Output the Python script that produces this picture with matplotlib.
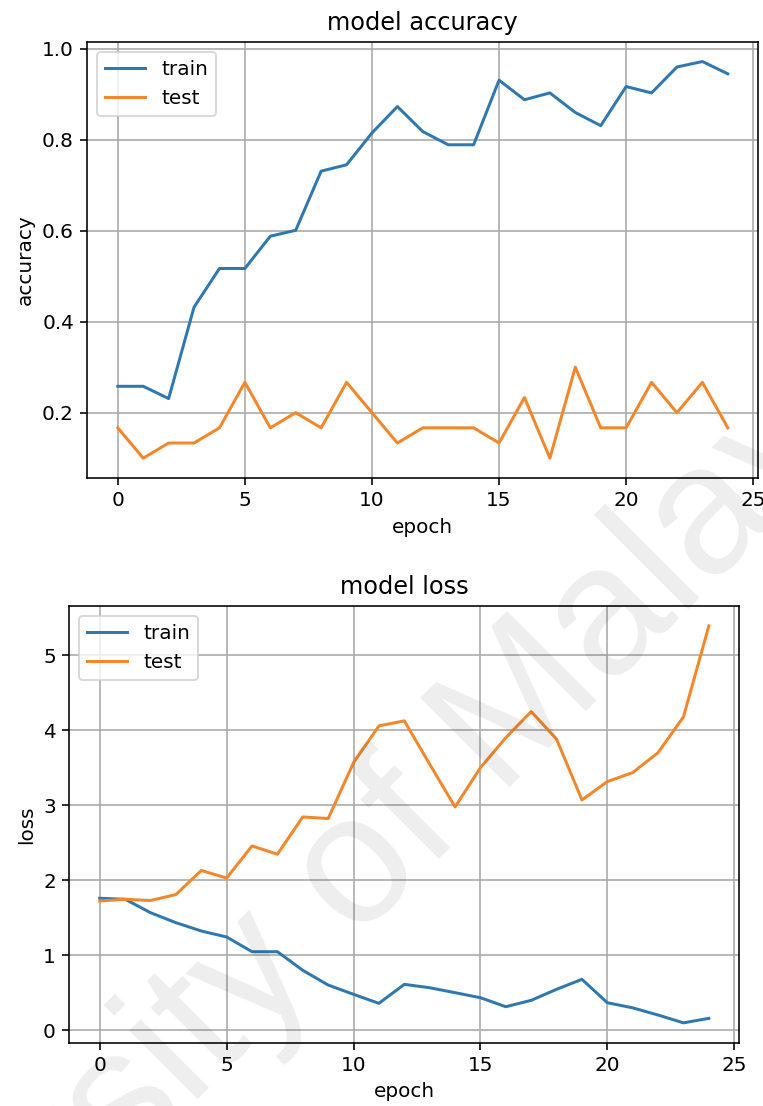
import matplotlib
matplotlib.use("Agg")
import matplotlib.pyplot as plt

epochs = list(range(25))

acc_train = [0.258, 0.258, 0.231, 0.432, 0.517, 0.517, 0.588, 0.601, 0.731, 0.745,
             0.815, 0.873, 0.818, 0.789, 0.789, 0.931, 0.888, 0.903, 0.860, 0.831,
             0.917, 0.903, 0.960, 0.972, 0.945]
acc_test = [0.1667, 0.1, 0.1333, 0.1333, 0.1667, 0.2667, 0.1667, 0.2, 0.1667, 0.2667,
            0.2, 0.1333, 0.1667, 0.1667, 0.1667, 0.1333, 0.2333, 0.1, 0.3, 0.1667,
            0.1667, 0.2667, 0.2, 0.2667, 0.1667]

loss_train = [1.76, 1.747, 1.568, 1.435, 1.324, 1.244, 1.048, 1.048, 0.80, 0.604,
              0.48, 0.36, 0.613, 0.568, 0.502, 0.435, 0.315, 0.40, 0.547, 0.68,
              0.368, 0.30, 0.204, 0.10, 0.16]
loss_test = [1.724, 1.747, 1.73, 1.81, 2.13, 2.03, 2.457, 2.347, 2.844, 2.822,
             3.568, 4.057, 4.124, 3.547, 2.977, 3.5, 3.9, 4.248, 3.88, 3.07,
             3.315, 3.435, 3.70, 4.177, 5.39]

legend_labels = ["train", "test"]

S = 1.09
plt.rcParams.update({
    "font.size": 10 * S,
    "axes.titlesize": 12 * S,
    "axes.linewidth": 0.8 * S,
    "xtick.major.width": 0.8 * S,
    "ytick.major.width": 0.8 * S,
    "xtick.major.size": 3.5 * S,
    "ytick.major.size": 3.5 * S,
    "axes.titlepad": 6 * S,
})

DPI = 132
W, H = 763, 1106
fig = plt.figure(figsize=(W / DPI, H / DPI), dpi=DPI)

def add_ax(l, r, t, b):
    return fig.add_axes([l / W, 1 - b / H, (r - l) / W, (b - t) / H])

ax1 = add_ax(87.3, 758.3, 41.7, 478)
ax2 = add_ax(69.3, 739.3, 606, 1042.7)

grid_kw = dict(color="#a8a8a8", linewidth=0.8 * S)
lw = 1.5 * S

ax1.plot(epochs, acc_train, color="#2f78b2", linewidth=lw)
ax1.plot(epochs, acc_test, color="#f5862a", linewidth=lw)
ax1.set_title("model accuracy")
ax1.set_ylabel("accuracy")
ax1.set_xlabel("epoch")
ax1.legend(legend_labels, loc="upper left")
ax1.grid(True, **grid_kw)
ax1.set_xticks([0, 5, 10, 15, 20, 25])

ax2.plot(epochs, loss_train, color="#2f78b2", linewidth=lw)
ax2.plot(epochs, loss_test, color="#f5862a", linewidth=lw)
ax2.set_title("model loss")
ax2.set_ylabel("loss")
ax2.set_xlabel("epoch")
ax2.legend(legend_labels, loc="upper left")
ax2.grid(True, **grid_kw)
ax2.set_xticks([0, 5, 10, 15, 20, 25])

# faint watermark
fig.text(300 / W, 1 - 930 / H, "University of Malaya", rotation=45,
         ha="center", va="center", fontsize=100, color="black", alpha=0.07,
         family="Liberation Sans", rotation_mode="anchor")

fig.savefig("out.png", dpi=DPI)
